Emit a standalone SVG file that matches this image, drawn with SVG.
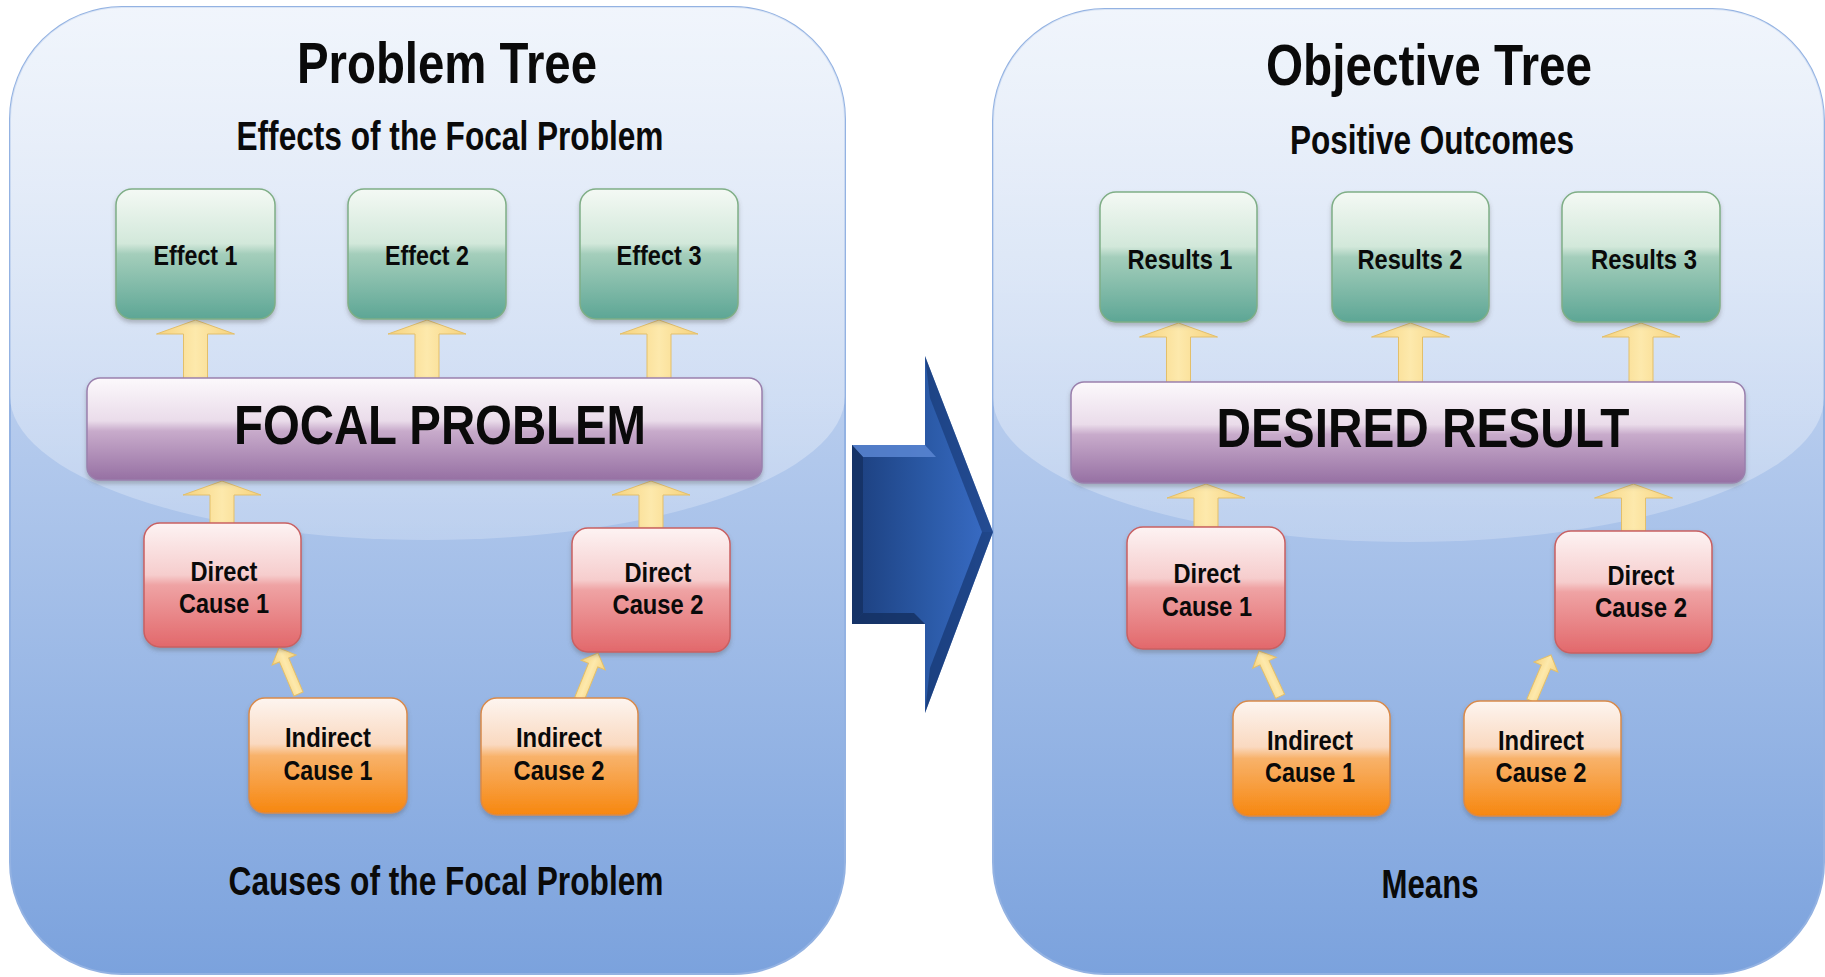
<svg xmlns="http://www.w3.org/2000/svg" width="1825" height="977" viewBox="0 0 1825 977">
<defs>
  <linearGradient id="gPanel" x1="0" y1="0" x2="0" y2="1">
    <stop offset="0" stop-color="#d6e3f6"/>
    <stop offset="0.4" stop-color="#b8cdee"/>
    <stop offset="1" stop-color="#7ba2dd"/>
  </linearGradient>
  <linearGradient id="gGloss" x1="0" y1="0" x2="0" y2="1">
    <stop offset="0" stop-color="#ffffff" stop-opacity="0.65"/>
    <stop offset="1" stop-color="#ffffff" stop-opacity="0.22"/>
  </linearGradient>
  <linearGradient id="gGreen" x1="0" y1="0" x2="0" y2="1">
    <stop offset="0" stop-color="#f4f9f4"/>
    <stop offset="0.42" stop-color="#d2e8da"/>
    <stop offset="0.5" stop-color="#a4cebb"/>
    <stop offset="1" stop-color="#5da695"/>
  </linearGradient>
  <linearGradient id="gRed" x1="0" y1="0" x2="0" y2="1">
    <stop offset="0" stop-color="#fdf3f3"/>
    <stop offset="0.42" stop-color="#f6cdcd"/>
    <stop offset="0.5" stop-color="#efa3a4"/>
    <stop offset="1" stop-color="#e2686b"/>
  </linearGradient>
  <linearGradient id="gOrange" x1="0" y1="0" x2="0" y2="1">
    <stop offset="0" stop-color="#fdf5f0"/>
    <stop offset="0.4" stop-color="#fad9c0"/>
    <stop offset="0.5" stop-color="#f8b26a"/>
    <stop offset="1" stop-color="#f7870f"/>
  </linearGradient>
  <linearGradient id="gPurple" x1="0" y1="0" x2="0" y2="1">
    <stop offset="0" stop-color="#fcf9fc"/>
    <stop offset="0.42" stop-color="#eadcea"/>
    <stop offset="0.52" stop-color="#c8abcb"/>
    <stop offset="1" stop-color="#9670a3"/>
  </linearGradient>
  <linearGradient id="gYellow" x1="0" y1="0" x2="1" y2="0">
    <stop offset="0" stop-color="#f6d27c"/>
    <stop offset="0.5" stop-color="#fde9ac"/>
    <stop offset="1" stop-color="#f6d27c"/>
  </linearGradient>
  <linearGradient id="gBlue" x1="852" y1="0" x2="993" y2="0" gradientUnits="userSpaceOnUse">
    <stop offset="0" stop-color="#1c3f7e"/>
    <stop offset="0.55" stop-color="#2b5aa7"/>
    <stop offset="1" stop-color="#3a6dc7"/>
  </linearGradient>
  <filter id="shadow" x="-10%" y="-10%" width="120%" height="130%">
    <feDropShadow dx="0" dy="3" stdDeviation="2" flood-color="#555" flood-opacity="0.35"/>
  </filter>
  <clipPath id="clipL"><rect x="10" y="7" width="835" height="967" rx="112" ry="112"/></clipPath>
  <clipPath id="clipR"><rect x="993" y="9" width="831" height="965" rx="112" ry="112"/></clipPath>
  <path id="diagArrow" d="M0,0 L13,13 L5,13 L5,50 L-5,50 L-5,13 L-13,13 Z"/>
  <style>
    text { font-family: "Liberation Sans Narrow", "Liberation Sans", Arial, sans-serif; font-weight: bold; fill: #0a0a0a; text-anchor: middle; }
    .title { font-size: 57px; }
    .sub { font-size: 40px; }
    .big { font-size: 56px; }
    .box { font-size: 28px; }
    .panel { fill: url(#gPanel); stroke: #93b2e2; stroke-width: 2; }
    .gloss { fill: url(#gGloss); }
    .green { fill: url(#gGreen); stroke: #7fae86; stroke-width: 1.5; filter: url(#shadow); }
    .red { fill: url(#gRed); stroke: #c96062; stroke-width: 1.5; filter: url(#shadow); }
    .orange { fill: url(#gOrange); stroke: #d98a4a; stroke-width: 1.5; filter: url(#shadow); }
    .purple { fill: url(#gPurple); stroke: #9a80ad; stroke-width: 1.5; filter: url(#shadow); }
    .arrow { fill: url(#gYellow); stroke: #e3bf6a; stroke-width: 1; }
  </style>
</defs>

<rect width="1825" height="977" fill="#ffffff"/>

<!-- Left panel -->
<g id="panel-problem-tree">
  <rect class="panel" x="10" y="7" width="835" height="967" rx="112" ry="112"/>
  <path class="gloss" clip-path="url(#clipL)" d="M10,7 H845 V396 A417.5 144 0 0 1 10 396 Z"/>
  <text class="title" x="447" y="83" textLength="300" lengthAdjust="spacingAndGlyphs">Problem Tree</text>
  <text class="sub" x="450" y="150" textLength="427" lengthAdjust="spacingAndGlyphs">Effects of the Focal Problem</text>
  <text class="sub" x="446" y="895" textLength="435" lengthAdjust="spacingAndGlyphs">Causes of the Focal Problem</text>
</g>

<!-- Right panel -->
<g id="panel-objective-tree">
  <rect class="panel" x="993" y="9" width="831" height="965" rx="112" ry="112"/>
  <path class="gloss" clip-path="url(#clipR)" d="M993,9 H1824 V398 A415.5 144 0 0 1 993 398 Z"/>
  <text class="title" x="1429" y="85" textLength="326" lengthAdjust="spacingAndGlyphs">Objective Tree</text>
  <text class="sub" x="1432" y="154" textLength="284" lengthAdjust="spacingAndGlyphs">Positive Outcomes</text>
  <text class="sub" x="1430" y="898" textLength="97" lengthAdjust="spacingAndGlyphs">Means</text>
</g>

<!-- Connectors -->
<g id="connectors">
  <!-- left: bar to effects -->
  <polygon class="arrow" points="195.5,320 234.5,334 207.5,334 207.5,379 183.5,379 183.5,334 156.5,334"/>
  <polygon class="arrow" points="427,320 466,334 439,334 439,379 415,379 415,334 388,334"/>
  <polygon class="arrow" points="659,320 698,334 671,334 671,379 647,379 647,334 620,334"/>
  <!-- left: direct causes to bar -->
  <polygon class="arrow" points="222,481 261,495 234,495 234,524 210,524 210,495 183,495"/>
  <polygon class="arrow" points="651,481 690,495 663,495 663,528 639,528 639,495 612,495"/>
  <!-- left: indirect to direct -->
  <use href="#diagArrow" class="arrow" transform="translate(279,648) rotate(-23)"/>
  <use href="#diagArrow" class="arrow" transform="translate(598,653) rotate(22)"/>
  <!-- right: bar to results -->
  <polygon class="arrow" points="1178.5,323 1217.5,337 1190.5,337 1190.5,383 1166.5,383 1166.5,337 1139.5,337"/>
  <polygon class="arrow" points="1410.5,323 1449.5,337 1422.5,337 1422.5,383 1398.5,383 1398.5,337 1371.5,337"/>
  <polygon class="arrow" points="1641,323 1680,337 1653,337 1653,383 1629,383 1629,337 1602,337"/>
  <!-- right: direct causes to bar -->
  <polygon class="arrow" points="1206,484 1245,498 1218,498 1218,527 1194,527 1194,498 1167,498"/>
  <polygon class="arrow" points="1633.5,484 1672.5,498 1645.5,498 1645.5,531 1621.5,531 1621.5,498 1594.5,498"/>
  <!-- right: indirect to direct -->
  <use href="#diagArrow" class="arrow" transform="translate(1259,651) rotate(-25)"/>
  <use href="#diagArrow" class="arrow" transform="translate(1551,655) rotate(23)"/>
  <!-- big transition arrow -->
  <g id="transition-arrow">
    <polygon fill="url(#gBlue)" points="852,445 925,445 925,356 993,532 925,713 925,624 852,624"/>
    <polygon fill="#5a86d2" opacity="0.85" points="852,445 925,445 936,457 863,457"/>
    <polygon fill="#142f60" opacity="0.8" points="852,624 925,624 914,613 863,613"/>
    <polygon fill="#132d5c" opacity="0.7" points="852,445 863,457 863,613 852,624"/>
    <polygon fill="#163670" opacity="0.6" points="925,356 993,532 982,532 930,398"/>
    <polygon fill="#163670" opacity="0.7" points="925,713 993,532 982,532 930,668"/>
  </g>
</g>

<!-- Left panel nodes -->
<g id="effect-1"><rect class="green" x="116" y="189" width="159" height="130" rx="16"/><text class="box" x="195.5" y="265" textLength="84" lengthAdjust="spacingAndGlyphs">Effect 1</text></g>
<g id="effect-2"><rect class="green" x="348" y="189" width="158" height="130" rx="16"/><text class="box" x="427" y="265" textLength="84" lengthAdjust="spacingAndGlyphs">Effect 2</text></g>
<g id="effect-3"><rect class="green" x="580" y="189" width="158" height="130" rx="16"/><text class="box" x="659" y="265" textLength="85" lengthAdjust="spacingAndGlyphs">Effect 3</text></g>
<g id="focal-problem"><rect class="purple" x="87" y="378" width="675" height="102" rx="13"/><text class="big" x="440" y="444" textLength="412" lengthAdjust="spacingAndGlyphs">FOCAL PROBLEM</text></g>
<g id="direct-cause-1-left"><rect class="red" x="144" y="523" width="157" height="124" rx="16"/><text class="box" x="224" y="581" textLength="67" lengthAdjust="spacingAndGlyphs">Direct</text><text class="box" x="224" y="613" textLength="90" lengthAdjust="spacingAndGlyphs">Cause 1</text></g>
<g id="direct-cause-2-left"><rect class="red" x="572" y="528" width="158" height="124" rx="16"/><text class="box" x="658" y="582" textLength="67" lengthAdjust="spacingAndGlyphs">Direct</text><text class="box" x="658" y="614" textLength="91" lengthAdjust="spacingAndGlyphs">Cause 2</text></g>
<g id="indirect-cause-1-left"><rect class="orange" x="249" y="698" width="158" height="115" rx="16"/><text class="box" x="328" y="747" textLength="86" lengthAdjust="spacingAndGlyphs">Indirect</text><text class="box" x="328" y="780" textLength="89" lengthAdjust="spacingAndGlyphs">Cause 1</text></g>
<g id="indirect-cause-2-left"><rect class="orange" x="481" y="698" width="157" height="117" rx="16"/><text class="box" x="559" y="747" textLength="86" lengthAdjust="spacingAndGlyphs">Indirect</text><text class="box" x="559" y="780" textLength="91" lengthAdjust="spacingAndGlyphs">Cause 2</text></g>

<!-- Right panel nodes -->
<g id="results-1"><rect class="green" x="1100" y="192" width="157" height="130" rx="16"/><text class="box" x="1180" y="269" textLength="105" lengthAdjust="spacingAndGlyphs">Results 1</text></g>
<g id="results-2"><rect class="green" x="1332" y="192" width="157" height="130" rx="16"/><text class="box" x="1410" y="269" textLength="105" lengthAdjust="spacingAndGlyphs">Results 2</text></g>
<g id="results-3"><rect class="green" x="1562" y="192" width="158" height="130" rx="16"/><text class="box" x="1644" y="269" textLength="106" lengthAdjust="spacingAndGlyphs">Results 3</text></g>
<g id="desired-result"><rect class="purple" x="1071" y="382" width="674" height="101" rx="13"/><text class="big" x="1423" y="447" textLength="413" lengthAdjust="spacingAndGlyphs">DESIRED RESULT</text></g>
<g id="direct-cause-1-right"><rect class="red" x="1127" y="527" width="158" height="122" rx="16"/><text class="box" x="1207" y="583" textLength="67" lengthAdjust="spacingAndGlyphs">Direct</text><text class="box" x="1207" y="616" textLength="90" lengthAdjust="spacingAndGlyphs">Cause 1</text></g>
<g id="direct-cause-2-right"><rect class="red" x="1555" y="531" width="157" height="122" rx="16"/><text class="box" x="1641" y="585" textLength="67" lengthAdjust="spacingAndGlyphs">Direct</text><text class="box" x="1641" y="617" textLength="92" lengthAdjust="spacingAndGlyphs">Cause 2</text></g>
<g id="indirect-cause-1-right"><rect class="orange" x="1233" y="701" width="157" height="115" rx="16"/><text class="box" x="1310" y="750" textLength="86" lengthAdjust="spacingAndGlyphs">Indirect</text><text class="box" x="1310" y="782" textLength="90" lengthAdjust="spacingAndGlyphs">Cause 1</text></g>
<g id="indirect-cause-2-right"><rect class="orange" x="1464" y="701" width="157" height="115" rx="16"/><text class="box" x="1541" y="750" textLength="86" lengthAdjust="spacingAndGlyphs">Indirect</text><text class="box" x="1541" y="782" textLength="91" lengthAdjust="spacingAndGlyphs">Cause 2</text></g>
</svg>
